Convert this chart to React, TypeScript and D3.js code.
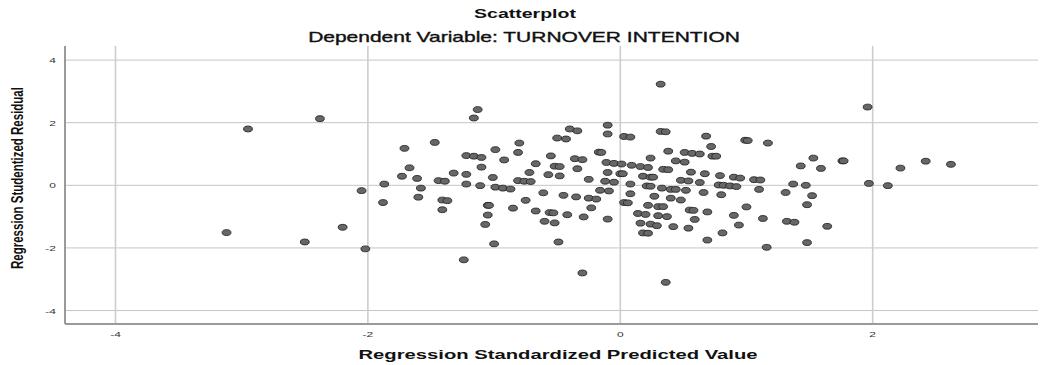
import React from "react";
import { scaleLinear } from "d3";

// values
const predictedValues = [
  -3.12, -2.95, -2.5, -2.38, -2.2, -2.05, -2.02, -1.88, -1.87, -1.73, -1.71, -1.67, -1.61, -1.6, -1.58,
  -1.47, -1.44, -1.41, -1.41, -1.39, -1.37, -1.32, -1.24,
  -1.13, -1.16, 0.32, -0.1, -0.1, -0.4, -0.34, -0.5, -0.43, 0.03, 0.08, 0.32, 0.36, -0.8, -0.81, -0.99,
  -1.22, -1.16, -1.1, -0.92, -1.1, -0.67, -0.55, -0.52, -0.48, -0.36, -0.3, -0.34, -0.17, -0.15, -0.11,
  -0.05, 0.01, 0.09, 0.16, 0.22, 0.24, 0.38, 0.44, 0.34, 0.38, -0.1, 0.0, 0.02, -0.72, -0.57, -0.48,
  -1.22, -1.01, -0.81, -0.76, -0.71, -0.25, -0.12, -0.05, 0.18, 0.24, 0.26, 0.08, 0.21, 0.24, 0.33,
  0.4, 0.44, 0.48, -1.22, -1.11, -0.99, -0.93, -0.87, -0.16, -0.09, -0.61, -0.45, -0.35, -0.25, -0.19,
  -0.75, 0.08, 0.27, 0.4, 0.48, 0.03, 0.06, -1.05, -1.04, -0.85, -0.23, 0.22, 0.3, 0.34, -0.67, -0.56,
  -0.53, -0.42, -0.29, -0.1, 0.14, 0.2, 0.3, 0.37, -1.05, -1.07, -0.6, -0.52, 0.16, 0.24, 0.29, 0.42,
  0.18, 0.22, -1.0, -0.49, -0.3, 0.36,
  1.96, 0.68, 0.99, 1.01, 1.17, 0.72, 0.51, 0.57, 0.63, 0.73, 0.76, 0.51, 1.53, 1.76, 1.77, 1.43, 1.59,
  0.56, 0.67, 0.79, 0.9, 0.95, 1.06, 1.11, 0.54, 0.63, 0.78, 0.82, 0.87, 0.92, 0.52, 1.1, 1.37, 1.47,
  1.97, 2.12, 0.66, 0.8, 1.31, 1.52, 1.48, 1.0, 0.55, 0.58, 0.69, 0.9, 0.59, 1.13, 1.32, 1.38, 0.54,
  0.94, 1.64, 0.81, 0.69, 1.48, 1.16,
  2.22, 2.42, 2.62,
];

const studentizedResiduals = [
  -1.51, 1.8, -1.81, 2.13, -1.34, -0.17, -2.03, -0.55, 0.04, 0.29, 1.18, 0.56, 0.22, -0.38, -0.09,
  1.37, 0.15, -0.47, -0.78, 0.13, -0.49, 0.39, -2.38,
  2.42, 2.15, 3.23, 1.92, 1.64, 1.8, 1.74, 1.51, 1.48, 1.56, 1.54, 1.72, 1.71, 1.35, 1.05, 1.14,
  0.95, 0.93, 0.89, 0.81, 0.58, 0.69, 0.94, 0.61, 0.6, 0.85, 0.82, 0.53, 1.06, 1.05, 0.73,
  0.7, 0.68, 0.64, 0.6, 0.57, 0.87, 1.09, 0.78, 0.51, 0.5, 0.41, 0.37, 0.37, 0.41, 0.34, 0.3,
  0.35, 0.25, 0.15, 0.13, 0.12, 0.19, 0.13, 0.1, 0.29, 0.26, 0.26, 0.04, -0.02, -0.03, -0.09,
  -0.13, -0.13, 0.16, 0.04, -0.01, -0.06, -0.09, -0.12, -0.16, -0.18, -0.24, -0.32, -0.37, -0.41, -0.44,
  -0.48, -0.27, -0.35, -0.41, -0.47, -0.55, -0.56, -0.64, -0.64, -0.73, -0.72, -0.64, -0.68, -0.68, -0.82, -0.87,
  -0.88, -0.94, -1.01, -1.08, -0.9, -0.93, -0.97, -1.0, -0.95, -1.25, -1.15, -1.2, -1.21, -1.24, -1.29, -1.32,
  -1.52, -1.53, -1.87, -1.81, -2.8, -3.1,
  2.5, 1.57, 1.44, 1.43, 1.35, 1.24, 1.05, 1.02, 1.0, 0.93, 0.93, 0.74, 0.87, 0.78, 0.78, 0.62, 0.54,
  0.42, 0.37, 0.31, 0.26, 0.23, 0.18, 0.17, 0.14, 0.09, 0.01, 0.0, -0.02, -0.04, -0.16, -0.13, 0.04, 0.0,
  0.06, -0.01, -0.23, -0.3, -0.23, -0.33, -0.62, -0.69, -0.79, -0.8, -0.85, -0.96, -1.09, -1.06, -1.15, -1.18, -1.37,
  -1.27, -1.31, -1.52, -1.75, -1.83, -1.98,
  0.55, 0.77, 0.67,
];

const xTicks = [-4, -2, 0, 2];
const yTicks = [-4, -2, 0, 2, 4];

const chartTitle = "Scatterplot";
const chartSubtitle = "Dependent Variable: TURNOVER INTENTION";
const xLabel = "Regression Standardized Predicted Value";
const yLabel = "Regression Studentized Residual";

const W = 1041;
const H = 365;
const plot = { left: 65, right: 1038, top: 46, bottom: 324 };
const font = "'Liberation Sans', Arial, sans-serif";
const SX = 1.5; // the reference is stretched sideways

const StretchText = ({ x, y, size, weight = "normal", anchor = "middle", rotate = 0, fill = "#111", thicken = 0, children }) => (
  <text
    transform={`translate(${x},${y}) scale(${SX},1)${rotate ? ` rotate(${rotate})` : ""}`}
    fontFamily={font}
    fontSize={size}
    fontWeight={weight}
    textAnchor={anchor}
    fill={fill}
    stroke={thicken ? fill : "none"}
    strokeWidth={thicken}
  >
    {children}
  </text>
);

export default function App() {
  const x = scaleLinear().domain([-4.4, 3.31]).range([plot.left, plot.right]);
  const y = scaleLinear().domain([-4.43, 4.45]).range([plot.bottom, plot.top]);

  const points = predictedValues.map((v, i) => ({ px: v, py: studentizedResiduals[i] }));

  return (
    <svg
      width={W}
      height={H}
      style={{ position: "absolute", left: 0, top: 0, background: "#fff" }}
    >
      <StretchText x={525} y={18} size={13} weight="bold">
        {chartTitle}
      </StretchText>
      <StretchText x={524} y={42} size={14} thicken={0.35}>
        {chartSubtitle}
      </StretchText>

      {/* grid */}
      {yTicks.map((t) => (
        <line
          key={"gy" + t}
          x1={plot.left}
          x2={plot.right}
          y1={y(t)}
          y2={y(t)}
          stroke="#c6c6c6"
          strokeWidth={1}
        />
      ))}
      {xTicks.map((t) => (
        <line
          key={"gx" + t}
          x1={x(t)}
          x2={x(t)}
          y1={plot.top}
          y2={plot.bottom}
          stroke="#cdcdcd"
          strokeWidth={1.6}
        />
      ))}

      {/* axes */}
      <line x1={plot.left} x2={plot.left} y1={plot.top} y2={plot.bottom} stroke="#9a9a9a" strokeWidth={2} />
      <line x1={plot.left} x2={plot.right} y1={plot.bottom} y2={plot.bottom} stroke="#9a9a9a" strokeWidth={2} />

      {yTicks.map((t) => (
        <StretchText key={"ly" + t} x={56} y={y(t) + 3} size={8} anchor="end" fill="#333">
          {t}
        </StretchText>
      ))}
      {xTicks.map((t) => (
        <StretchText key={"lx" + t} x={x(t)} y={337} size={8} fill="#333">
          {t}
        </StretchText>
      ))}

      <StretchText x={558} y={359} size={13.5} weight="bold">
        {xLabel}
      </StretchText>
      <StretchText x={23} y={178} size={11.5} weight="bold" rotate={-90}>
        {yLabel}
      </StretchText>

      {/* points */}
      {points.map((d, i) => (
        <ellipse
          key={i}
          cx={x(d.px)}
          cy={y(d.py)}
          rx={4.4}
          ry={2.9}
          fill="#676767"
          stroke="#262626"
          strokeWidth={0.9}
        />
      ))}
    </svg>
  );
}
